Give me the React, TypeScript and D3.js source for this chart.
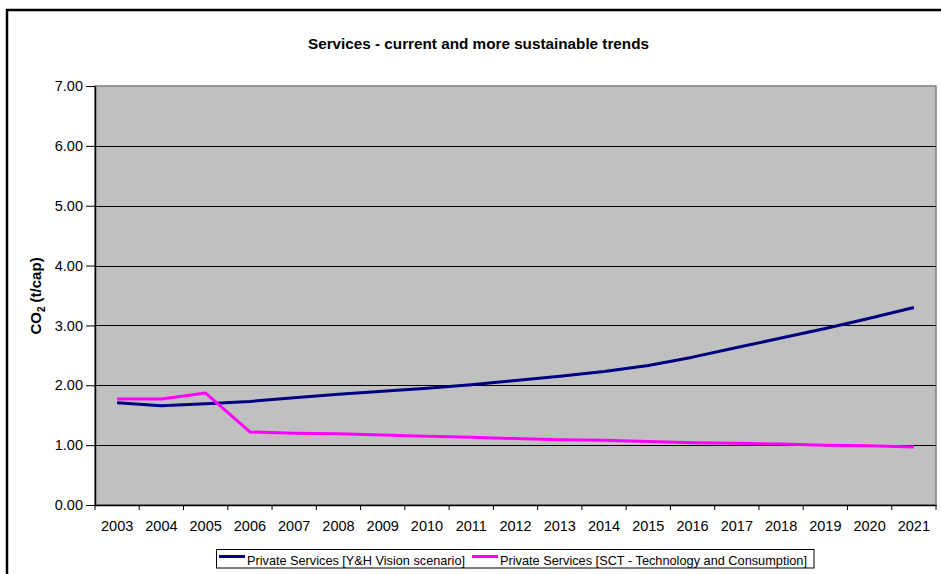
import React, { useEffect, useRef } from "react";
import * as d3 from "d3";

const years = ["2003","2004","2005","2006","2007","2008","2009","2010","2011","2012","2013","2014","2015","2016","2017","2018","2019","2020","2021"];
const vision = [1.71,1.66,1.69,1.73,1.79,1.85,1.90,1.95,2.01,2.08,2.15,2.23,2.33,2.47,2.63,2.79,2.95,3.12,3.30];
const sct = [1.77,1.77,1.87,1.22,1.20,1.19,1.17,1.15,1.13,1.11,1.09,1.08,1.06,1.04,1.03,1.02,1.00,0.99,0.97];
const yTicks = [0,1,2,3,4,5,6,7];
const seriesNames = ["Private Services [Y&H Vision scenario]", "Private Services [SCT - Technology and Consumption]"];
const seriesColors = ["#000080", "#ff00ff"];
const title = "Services - current and more sustainable trends";

export default function App() {
  const ref = useRef<SVGSVGElement>(null);
  useEffect(() => {
    const svg = d3.select(ref.current);
    svg.selectAll("*").remove();
    const W = 941, H = 574;
    const L = 95, R = 936, T = 86, B = 505;
    const font = "Liberation Sans, Arial, sans-serif";

    svg.append("rect").attr("x", 0).attr("y", 0).attr("width", W).attr("height", H).attr("fill", "#fff");
    svg.append("rect").attr("x", 7).attr("y", 10).attr("width", W + 10).attr("height", H + 10)
      .attr("fill", "none").attr("stroke", "#000").attr("stroke-width", 2.5);

    svg.append("text").attr("x", 308).attr("y", 49)
      .attr("textLength", 341).attr("lengthAdjust", "spacingAndGlyphs")
      .attr("font-family", font).attr("font-weight", "bold").attr("font-size", 15).text(title);

    const x = d3.scaleBand().domain(years).range([L, R]);
    const y = d3.scaleLinear().domain([0, 7]).range([B, T]);

    svg.append("rect").attr("x", L).attr("y", T).attr("width", R - L).attr("height", B - T)
      .attr("fill", "#c0c0c0").attr("stroke", "#808080").attr("stroke-width", 1.5);

    svg.append("g").selectAll("line").data(yTicks.filter(t => t > 0 && t < 7)).join("line")
      .attr("x1", L).attr("x2", R).attr("y1", d => Math.round(y(d)) + 0.5).attr("y2", d => Math.round(y(d)) + 0.5)
      .attr("stroke", "#000").attr("stroke-width", 1);

    const ya = svg.append("g").attr("transform", `translate(${L},0)`)
      .call(d3.axisLeft(y).tickValues(yTicks).tickFormat(d3.format(".2f")).tickSize(9).tickSizeOuter(0));
    ya.select(".domain").attr("stroke", "#000").attr("stroke-width", 1.5);
    ya.selectAll("line").attr("stroke", "#000");
    ya.selectAll("text").attr("font-family", font).attr("font-size", 14.5).attr("fill", "#000").attr("x", -12);

    const xa = svg.append("g").attr("transform", `translate(0,${B})`)
      .call(d3.axisBottom(x).tickSize(0).tickSizeOuter(0));
    xa.select(".domain").attr("stroke", "#000").attr("stroke-width", 1.5);
    xa.selectAll("text").attr("font-family", font).attr("font-size", 14.5).attr("fill", "#000").attr("y", 16);
    svg.append("g").selectAll("line").data(d3.range(years.length + 1)).join("line")
      .attr("x1", i => L + i * x.step()).attr("x2", i => L + i * x.step())
      .attr("y1", B).attr("y2", B + 5).attr("stroke", "#000");

    const yl = svg.append("text").attr("transform", `translate(41,296) rotate(-90)`)
      .attr("text-anchor", "middle").attr("font-family", font).attr("font-weight", "bold").attr("font-size", 15);
    yl.append("tspan").text("CO");
    yl.append("tspan").attr("font-size", 10).attr("dy", 4).text("2");
    yl.append("tspan").attr("dy", -4).text(" (t/cap)");

    const line = d3.line<number>().x((_, i) => (x(years[i]) as number) + x.bandwidth() / 2).y(d => y(d));
    [vision, sct].forEach((s, k) => {
      svg.append("path").datum(s).attr("d", line).attr("fill", "none")
        .attr("stroke", seriesColors[k]).attr("stroke-width", 3).attr("stroke-linejoin", "round");
    });

    const lg = svg.append("g");
    lg.append("rect").attr("x", 216.5).attr("y", 549.5).attr("width", 597.5).attr("height", 18.5)
      .attr("fill", "#fff").attr("stroke", "#000").attr("stroke-width", 1);
    const lx = [219, 472];
    const lw = [218, 307];
    seriesNames.forEach((n, k) => {
      lg.append("line").attr("x1", lx[k]).attr("x2", lx[k] + 26).attr("y1", 556.5).attr("y2", 556.5)
        .attr("stroke", seriesColors[k]).attr("stroke-width", 3);
      lg.append("text").attr("x", lx[k] + 28).attr("y", 564.5)
        .attr("textLength", lw[k]).attr("lengthAdjust", "spacingAndGlyphs")
        .attr("font-family", font).attr("font-size", 13).text(n);
    });
  }, []);
  return (
    <svg ref={ref} width={941} height={574} style={{ position: "absolute", left: 0, top: 0 }} />
  );
}
